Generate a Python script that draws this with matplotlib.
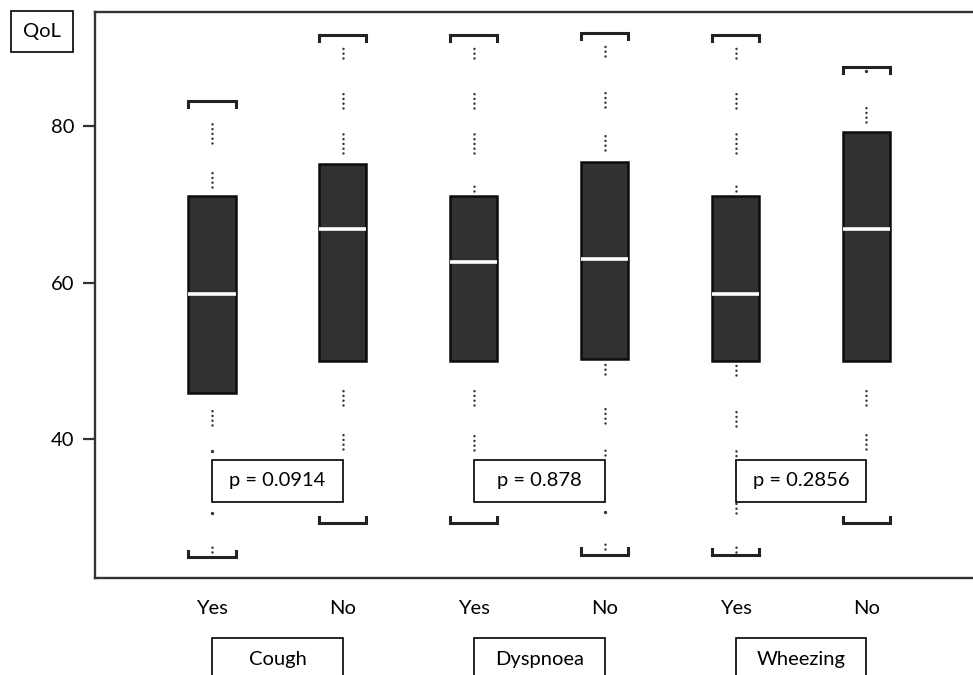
import matplotlib.pyplot as plt
from matplotlib.patches import Rectangle
from matplotlib.transforms import blended_transform_factory

plt.rcParams['font.family'] = ['Lato', 'DejaVu Sans']

symptoms = ["Cough", "Dyspnoea", "Wheezing"]
answers = ["Yes", "No", "Yes", "No", "Yes", "No"]
p_values = ["p = 0.0914", "p = 0.878", "p = 0.2856"]

# box stats per group, left to right
q1 = [45.9, 50.0, 50.0, 50.3, 50.0, 50.0]
med = [58.6, 66.8, 62.7, 63.0, 58.6, 66.8]
q3 = [71.1, 75.2, 71.1, 75.4, 71.1, 79.2]
whislo = [25.0, 29.3, 29.3, 25.3, 25.2, 29.3]
whishi = [83.2, 91.6, 91.6, 91.9, 91.6, 87.6]

# runs of dotted observations (from, to) and lone dots
dot_runs = [
    [(77.8, 80.4), (72.2, 74.6), (41.8, 44.1), (25.6, 26.5)],
    [(88.7, 90.4), (82.3, 84.7), (76.6, 79.1), (44.4, 46.8), (38.8, 41.2)],
    [(88.7, 90.4), (82.3, 84.6), (76.6, 79.1), (71.7, 72.7), (44.4, 46.7), (38.6, 41.1)],
    [(89.0, 90.6), (82.4, 84.9), (76.9, 79.2), (48.4, 50.1), (42.1, 44.4), (38.0, 38.9), (26.0, 26.7)],
    [(88.7, 90.4), (82.3, 84.6), (76.6, 79.1), (71.7, 72.7), (48.2, 49.7), (41.7, 44.1),
     (36.1, 38.6), (30.6, 32.1), (25.6, 26.5)],
    [(80.5, 83.0), (44.4, 46.7), (38.8, 41.1)],
]
dot_single = [[38.5, 30.6], [], [], [30.7], [], [87.0]]

fig = plt.figure(figsize=(9.73, 6.75), dpi=100)
ax = fig.add_axes([95 / 973, 97 / 675, 878 / 973, 566.3 / 675])

pos = list(range(len(answers)))
stats = []
for i in pos:
    stats.append({"q1": q1[i], "med": med[i], "q3": q3[i],
                  "whislo": whislo[i], "whishi": whishi[i], "fliers": []})

# dotted observations first, boxes on top
for i in pos:
    for a, b in dot_runs[i]:
        ax.plot([i, i], [a, b], color="#333333", lw=1.8,
                linestyle=(0, (0.01, 1.9)), dash_capstyle="round", zorder=1)
    for v in dot_single[i]:
        ax.plot([i], [v], "o", color="#333333", ms=2.4, mew=0, zorder=1)

ax.bxp(stats, positions=pos, widths=0.36, patch_artist=True, showcaps=False,
       boxprops=dict(facecolor="#313131", edgecolor="#0d0d0d", linewidth=1.8),
       medianprops=dict(color="white", linewidth=2.6),
       whiskerprops=dict(linewidth=0), zorder=2)

# bracket-shaped caps
hw = 0.18
for i in pos:
    ax.plot([i - hw, i - hw, i + hw, i + hw],
            [whishi[i] - 0.8, whishi[i], whishi[i], whishi[i] - 0.8],
            color="#222222", lw=2.2, solid_joinstyle="miter", zorder=3)
    ax.plot([i - hw, i - hw, i + hw, i + hw],
            [whislo[i] + 0.8, whislo[i], whislo[i], whislo[i] + 0.8],
            color="#222222", lw=2.2, solid_joinstyle="miter", zorder=3)

# p-value boxes
for k, txt in enumerate(p_values):
    x0 = 2 * k
    ax.add_patch(Rectangle((x0, 32.0), 1, 5.35, facecolor="white",
                           edgecolor="black", lw=1.2, zorder=4))
    ax.text(x0 + 0.5, 34.7, txt, ha="center", va="center", fontsize=14.5, zorder=5)

ax.set_xlim(-0.894, 5.814)
ax.set_ylim(22.3, 94.6)
ax.set_yticks([40, 60, 80])
ax.set_xticks(pos)
ax.set_xticklabels(answers)
ax.tick_params(axis="x", length=0, pad=16, labelsize=14.5)
ax.tick_params(axis="y", length=9, width=1.6, pad=6, labelsize=14.5, color="#333333")
for s in ["left", "top", "bottom"]:
    ax.spines[s].set_linewidth(1.7)
    ax.spines[s].set_color("#333333")
ax.spines["right"].set_visible(False)

# symptom boxes under the axis
tr = blended_transform_factory(ax.transData, fig.transFigure)
for k, name in enumerate(symptoms):
    x0 = 2 * k
    ax.add_patch(Rectangle((x0, -0.05), 1, 0.1048, transform=tr, facecolor="white",
                           edgecolor="black", lw=1.2, clip_on=False))
    ax.text(x0 + 0.5, 1 - 659 / 675, name, transform=tr, ha="center", va="center",
            fontsize=14.5)

# QoL label
fig.patches.append(Rectangle((11 / 973, 1 - 52 / 675), 62 / 973, 41 / 675,
                             transform=fig.transFigure, facecolor="white",
                             edgecolor="black", lw=1.2))
fig.text(42 / 973, 1 - 32 / 675, "QoL", ha="center", va="center", fontsize=14.5)

fig.savefig("out.png", dpi=100)
